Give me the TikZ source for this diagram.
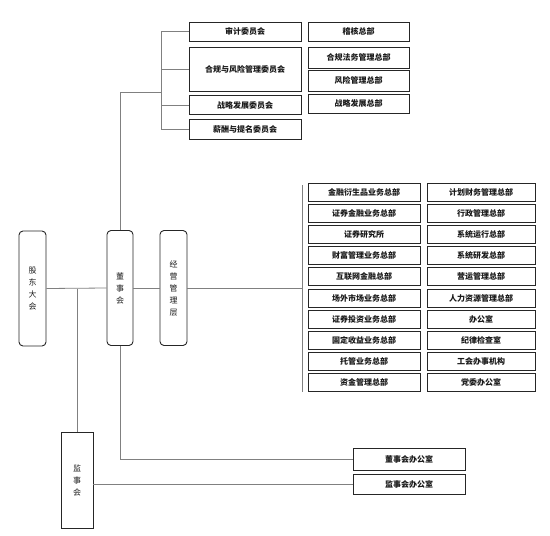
\documentclass[tikz,border=0pt]{standalone}
\usepackage{fontspec}
\setmainfont{Noto Sans CJK SC}
\begin{document}
\begin{tikzpicture}[x=1pt,y=-1pt,
  box/.style={draw=black!85,line width=0.9pt,inner sep=0pt,font=\fontsize{8}{10}\selectfont\bfseries,text=black!90},
  cbox/.style={box,minimum width=112pt,minimum height=19pt},
  rbox/.style={box,minimum width=101pt,minimum height=19pt},
  g1/.style={box,minimum width=112pt,minimum height=18pt},
  g2/.style={box,minimum width=108pt,minimum height=18pt},
  vtext/.style={align=center,font=\fontsize{8}{12}\selectfont},
  vbox/.style={box,vtext,rounded corners=4pt,minimum height=115pt},
  conn/.style={draw=black!50,line width=0.8pt}]
\useasboundingbox (0,0) rectangle (550,536);
% left column
\node[vbox,minimum width=27pt] (gd) at (32.5,288.5) {股\\东\\大\\会};
\node[vbox,minimum width=26pt] (dsh) at (120,288) {董\\事\\会};
\node[vbox,minimum width=27pt] (jy) at (173.5,288) {经\\营\\管\\理\\层};
\node[box,vtext,minimum width=32pt,minimum height=96pt] (jsh) at (77,480) {监\\事\\会};
% committees
\node[cbox] (c1) at (245,31.5) {审计委员会};
\node[cbox,minimum height=44pt] (c2) at (245,69) {合规与风险管理委员会};
\node[cbox] (c3) at (245,105) {战略发展委员会};
\node[cbox,minimum height=20pt] (c4) at (245,129.5) {薪酬与提名委员会};
\node[rbox] (r1) at (358.5,31.5) {稽核总部};
\node[rbox,minimum height=21pt] (r2) at (358.5,57.5) {合规法务管理总部};
\node[rbox,minimum height=21pt] (r3) at (358.5,80.5) {风险管理总部};
\node[rbox] (r4) at (358.5,103.5) {战略发展总部};
% grid
\node[g1] (a1) at (364,192) {金融衍生品业务总部};
\node[g1] (a2) at (364,213.2) {证券金融业务总部};
\node[g1] (a3) at (364,234.4) {证券研究所};
\node[g1] (a4) at (364,255.6) {财富管理业务总部};
\node[g1] (a5) at (364,276.8) {互联网金融总部};
\node[g1] (a6) at (364,298) {场外市场业务总部};
\node[g1] (a7) at (364,319.2) {证券投资业务总部};
\node[g1] (a8) at (364,340.4) {固定收益业务总部};
\node[g1] (a9) at (364,361.6) {托管业务总部};
\node[g1] (a10) at (364,382.8) {资金管理总部};
\node[g2] (b1) at (481,192) {计划财务管理总部};
\node[g2] (b2) at (481,213.2) {行政管理总部};
\node[g2] (b3) at (481,234.4) {系统运行总部};
\node[g2] (b4) at (481,255.6) {系统研发总部};
\node[g2] (b5) at (481,276.8) {营运管理总部};
\node[g2] (b6) at (481,298) {人力资源管理总部};
\node[g2] (b7) at (481,319.2) {办公室};
\node[g2] (b8) at (481,340.4) {纪律检查室};
\node[g2] (b9) at (481,361.6) {工会办事机构};
\node[g2] (b10) at (481,382.8) {党委办公室};
% offices
\node[box,minimum width=112pt,minimum height=22pt] (dbg) at (409,459) {董事会办公室};
\node[box,minimum width=112pt,minimum height=20pt] (jbg) at (409,484) {监事会办公室};
% coordinates
\coordinate (tj) at (161,92);
\coordinate (k1) at (161,31.5);
\coordinate (k4) at (161,129.5);
\coordinate (bt) at (302,185);
\coordinate (bb) at (302,392);
\coordinate (gj) at (77,288.5);
% connectors
\draw[conn] (gd.east) -- (dsh.west);
\draw[conn] (dsh.east) -- (jy.west);
\draw[conn] (jy.east) -- (jy.east -| bt);
\draw[conn] (bt) -- (bb);
\draw[conn] (dsh.north) |- (tj);
\draw[conn] (k1) -- (k4);
\draw[conn] (k1) -- (c1.west);
\draw[conn] (c2.west -| tj) -- (c2.west);
\draw[conn] (c3.west -| tj) -- (c3.west);
\draw[conn] (k4) -- (c4.west);
\draw[conn] (gj) -- (jsh.north);
\draw[conn] (dsh.south) |- (dbg.west);
\draw[conn] (jsh.east |- jbg.west) -- (jbg.west);
\end{tikzpicture}
\end{document}
